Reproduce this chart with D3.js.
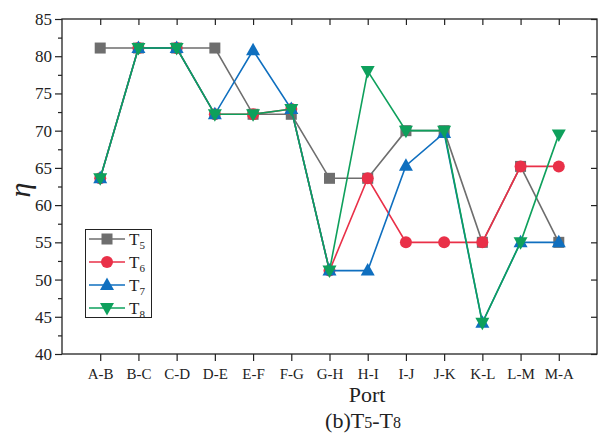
<!DOCTYPE html>
<html><head><meta charset="utf-8">
<script src="https://cdn.jsdelivr.net/npm/d3@7"></script>
<style>body{margin:0;background:#fff}svg{display:block}text{font-family:"Liberation Serif","Times New Roman",serif}</style>
</head><body><svg id="c" width="600" height="437"></svg>
<script>
const categories = ["A-B","B-C","C-D","D-E","E-F","F-G","G-H","H-I","I-J","J-K","K-L","L-M","M-A"];
const T5 = [81.1,81.1,81.1,81.1,72.2,72.2,63.6,63.6,70.0,70.0,55.0,65.2,55.0];
const T6 = [63.6,81.1,81.1,72.2,72.2,72.9,51.2,63.6,55.0,55.0,55.0,65.2,65.2];
const T7 = [63.6,81.1,81.1,72.2,80.8,72.9,51.2,51.2,65.3,69.7,44.2,55.0,55.0];
const T8 = [63.6,81.1,81.1,72.2,72.2,72.9,51.2,78.0,70.0,70.0,44.2,55.0,69.5];
const yTicks = [40,45,50,55,60,65,70,75,80,85];
const seriesNames = ["T5","T6","T7","T8"];

const series = [
  {name:"5", values:T5, color:"#6e6e6e", sym:"square"},
  {name:"6", values:T6, color:"#e93048", sym:"circle"},
  {name:"7", values:T7, color:"#0f6fbf", sym:"up"},
  {name:"8", values:T8, color:"#0ea05c", sym:"down"}
];

const svg = d3.select("#c");
const L=62,R=597,T=19,B=354;
const x = d3.scaleLinear().domain([0,14]).range([L,R]);
const y = d3.scaleLinear().domain([40,85]).range([B,T]);

// frame
svg.append("rect").attr("x",L).attr("y",T).attr("width",R-L).attr("height",B-T)
  .attr("fill","none").attr("stroke","#222").attr("stroke-width",1.3);

const idx = d3.range(1,14);
const bx = svg.append("g").attr("transform",`translate(0,${B})`)
  .call(d3.axisBottom(x).tickValues(idx).tickSize(7).tickSizeOuter(0).tickFormat(i=>categories[i-1]));
const tx = svg.append("g").attr("transform",`translate(0,${T})`)
  .call(d3.axisBottom(x).tickValues(idx).tickSize(6).tickSizeOuter(0).tickFormat(""));
const ly = svg.append("g").attr("transform",`translate(${L},0)`)
  .call(d3.axisLeft(y).tickValues(yTicks).tickSize(7).tickSizeOuter(0).tickPadding(3));
const lyMinor = svg.append("g").attr("transform",`translate(${L},0)`)
  .call(d3.axisLeft(y).tickValues(d3.range(42.5,85,5)).tickSize(4).tickSizeOuter(0).tickFormat(""));
const ry = svg.append("g").attr("transform",`translate(${R},0)`)
  .call(d3.axisLeft(y).tickValues(yTicks).tickSize(6).tickSizeOuter(0).tickFormat(""));
[bx,tx,ly,lyMinor,ry].forEach(g=>{
  g.select(".domain").remove();
  g.selectAll("line").attr("stroke","#222").attr("stroke-width",1.2);
});
bx.selectAll("text").attr("font-size",15).attr("fill","#222").attr("dy","1.0em");
ly.selectAll("text").attr("font-size",17).attr("fill","#222");

// titles
svg.append("text").attr("x",30).attr("y",190).attr("text-anchor","middle")
  .attr("font-size",30).attr("font-style","italic").attr("fill","#222")
  .attr("transform","rotate(-90,30,190)").text("η");
svg.append("text").attr("x",367).attr("y",402).attr("text-anchor","middle")
  .attr("font-size",22).attr("fill","#222").text("Port");
const cap = svg.append("text").attr("x",363).attr("y",428).attr("text-anchor","middle")
  .attr("font-size",22).attr("fill","#222");
cap.append("tspan").text("(b)T");
cap.append("tspan").attr("font-size",16).text("5");
cap.append("tspan").text("-T");
cap.append("tspan").attr("font-size",16).text("8");

function marker(g, sym, color, cx, cy){
  if(sym==="square") g.append("rect").attr("x",cx-5.5).attr("y",cy-5.5).attr("width",11).attr("height",11).attr("fill",color);
  else if(sym==="circle") g.append("circle").attr("cx",cx).attr("cy",cy).attr("r",6).attr("fill",color);
  else if(sym==="up") g.append("path").attr("d",`M${cx},${cy-7.5}L${cx+7},${cy+5}L${cx-7},${cy+5}Z`).attr("fill",color);
  else g.append("path").attr("d",`M${cx},${cy+7.5}L${cx+7},${cy-5}L${cx-7},${cy-5}Z`).attr("fill",color);
}

const line = d3.line().x((d,i)=>x(i+1)).y(d=>y(d));
series.forEach(s=>{
  const g = svg.append("g");
  g.append("path").attr("d",line(s.values)).attr("fill","none").attr("stroke",s.color).attr("stroke-width",1.6);
  s.values.forEach((v,i)=>marker(g,s.sym,s.color,x(i+1),y(v)));
});

// legend
const lg = svg.append("g");
lg.append("rect").attr("x",85.5).attr("y",229.5).attr("width",66).attr("height",88)
  .attr("fill","#fff").attr("stroke","#222").attr("stroke-width",1);
series.forEach((s,i)=>{
  const yy = 239 + i*23;
  lg.append("line").attr("x1",89).attr("x2",125).attr("y1",yy).attr("y2",yy).attr("stroke",s.color).attr("stroke-width",1.6);
  marker(lg,s.sym,s.color,107,yy);
  const t = lg.append("text").attr("x",129).attr("y",yy+6).attr("font-size",17).attr("fill","#222");
  t.append("tspan").text("T");
  t.append("tspan").attr("font-size",11).attr("dy",4).text(s.name);
});
</script></body></html>
